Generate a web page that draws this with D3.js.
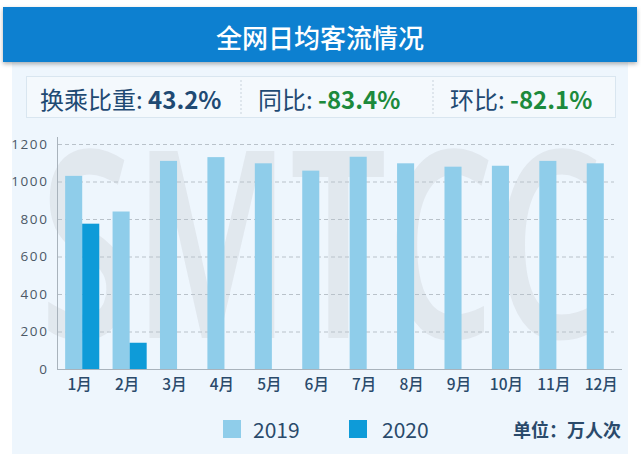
<!DOCTYPE html>
<html><head><meta charset="utf-8">
<script src="https://cdn.jsdelivr.net/npm/d3@7"></script>
<style>
html,body{margin:0;padding:0;background:#fff;}
svg{display:block;}
</style></head>
<body>
<svg id="c" width="641" height="461"></svg>
<script>
const months = ["1月","2月","3月","4月","5月","6月","7月","8月","9月","10月","11月","12月"];
const seriesNames = ["2019","2020"];
const values2019 = [1030,840,1110,1130,1097,1058,1132,1097,1079,1084,1110,1097];
const values2020 = [775,140,null,null,null,null,null,null,null,null,null,null];
const yTicks = [0,200,400,600,800,1000,1200];
const colors = {"2019":"#8fcdea","2020":"#0e9bd8"};
const titleText = "全网日均客流情况";
const stats = [
  {label:"换乘比重: ", value:"43.2%", color:"#1f4a73"},
  {label:"同比: ", value:"-83.4%", color:"#1c8a3c"},
  {label:"环比: ", value:"-82.1%", color:"#1c8a3c"}
];
const unitText = "单位：万人次";

const svg = d3.select("#c");
const FONT = "'Noto Sans CJK SC','Noto Sans',sans-serif";

// panel
svg.append("rect").attr("x",12).attr("y",60).attr("width",616).attr("height",394).attr("fill","#eef6fd");
// title bar with shadow
const defs = svg.append("defs");
const f = defs.append("filter").attr("id","sh").attr("x","-5%").attr("y","-20%").attr("width","110%").attr("height","150%");
f.append("feDropShadow").attr("dx",0).attr("dy",2).attr("stdDeviation",2).attr("flood-color","#000").attr("flood-opacity",0.3);
svg.append("rect").attr("x",3).attr("y",7).attr("width",634).attr("height",55).attr("fill","#0a80d0").attr("filter","url(#sh)");
svg.append("text").attr("x",320).attr("y",36).attr("text-anchor","middle").attr("dominant-baseline","central")
  .attr("fill","#fff").attr("font-family",FONT).attr("font-size",26).attr("font-weight",500).text(titleText);

// stats box
svg.append("rect").attr("x",26.5).attr("y",76.5).attr("width",589).attr("height",41).attr("fill","#f4f9fd").attr("stroke","#d9e6f0");
[241,433].forEach(x=>svg.append("line").attr("x1",x).attr("x2",x).attr("y1",80).attr("y2",114)
  .attr("stroke","#c9d3dc").attr("stroke-dasharray","2,2"));
const statX = [40,258,450];
stats.forEach((s,i)=>{
  const t = svg.append("text").attr("x",statX[i]).attr("y",98).attr("dominant-baseline","central")
    .attr("font-family",FONT).attr("font-size",24);
  t.append("tspan").attr("fill","#1f4a73").attr("font-weight",400).text(s.label);
  t.append("tspan").attr("fill",s.color).attr("font-weight",700).text(s.value);
});

// watermark
svg.append("text").attr("x",40).attr("y",338).attr("font-family","'Open Sans','DejaVu Sans',sans-serif")
  .attr("font-size",262).attr("font-weight",600).attr("fill","#c3c8ce").attr("fill-opacity",0.3)
  .attr("textLength",562).attr("lengthAdjust","spacingAndGlyphs").text("SMTCC");

// scales
const y = d3.scaleLinear().domain([0,1200]).range([369,144]);
const x0 = d3.scaleBand().domain(months).range([58.5,627.5]).paddingInner(0).paddingOuter(0);
const x1 = d3.scaleBand().domain(seriesNames).range([0,x0.bandwidth()]).paddingOuter(0.39).paddingInner(0);

// grid
const grid = svg.append("g");
grid.selectAll("line").data(yTicks.filter(d=>d>0)).join("line")
  .attr("x1",58).attr("x2",614).attr("y1",d=>y(d)+0.5).attr("y2",d=>y(d)+0.5)
  .attr("stroke","#b9c2ca").attr("stroke-dasharray","4,3").attr("stroke-width",1);

// y axis
const yAxis = svg.append("g").attr("transform","translate(57.5,0)")
  .call(d3.axisLeft(y).tickValues(yTicks).tickFormat(d3.format("d")).tickSize(0).tickPadding(9));
yAxis.select(".domain").attr("d","M0,137V369").attr("stroke","#a9b3bc");
yAxis.selectAll("text").attr("font-family","'Open Sans','DejaVu Sans',sans-serif").attr("font-size",13.5)
  .attr("fill","#4b5866").attr("letter-spacing","1.6px");

// bars
const data = months.map((m,i)=>({m, vals:[{k:"2019",v:values2019[i]},{k:"2020",v:values2020[i]}]}));
const g = svg.append("g");
g.selectAll("g").data(data).join("g").attr("transform",d=>`translate(${x0(d.m)},0)`)
  .selectAll("rect").data(d=>d.vals.filter(v=>v.v!=null)).join("rect")
  .attr("x",d=>x1(d.k)).attr("width",x1.bandwidth())
  .attr("y",d=>y(d.v)).attr("height",d=>y(0)-y(d.v)).attr("fill",d=>colors[d.k]);

// x axis
const xAxis = svg.append("g").attr("transform","translate(0,369.5)")
  .call(d3.axisBottom(x0).tickSize(0).tickPadding(9));
xAxis.select(".domain").attr("d","M57,0H622").attr("stroke","#a9b3bc");
xAxis.selectAll(".tick").attr("transform",d=>`translate(${x0(d)+x1("2019")+x1.bandwidth()/2+6},0)`);
xAxis.selectAll("text").attr("font-family",FONT).attr("font-size",15.5).attr("font-weight",500).attr("fill","#2a4a6b");

// legend
const leg = [{k:"2019",sx:223,tx:253},{k:"2020",sx:349,tx:382}];
leg.forEach(l=>{
  svg.append("rect").attr("x",l.sx).attr("y",420).attr("width",18).attr("height",18).attr("fill",colors[l.k]);
  svg.append("text").attr("x",l.tx).attr("y",429).attr("dominant-baseline","central")
    .attr("font-family",FONT).attr("font-size",21).attr("fill","#2a4a6b").text(l.k);
});
svg.append("text").attr("x",621).attr("y",429).attr("text-anchor","end").attr("dominant-baseline","central")
  .attr("font-family",FONT).attr("font-size",18).attr("font-weight",700).attr("fill","#2a4a6b").text(unitText);
</script>
</body></html>
